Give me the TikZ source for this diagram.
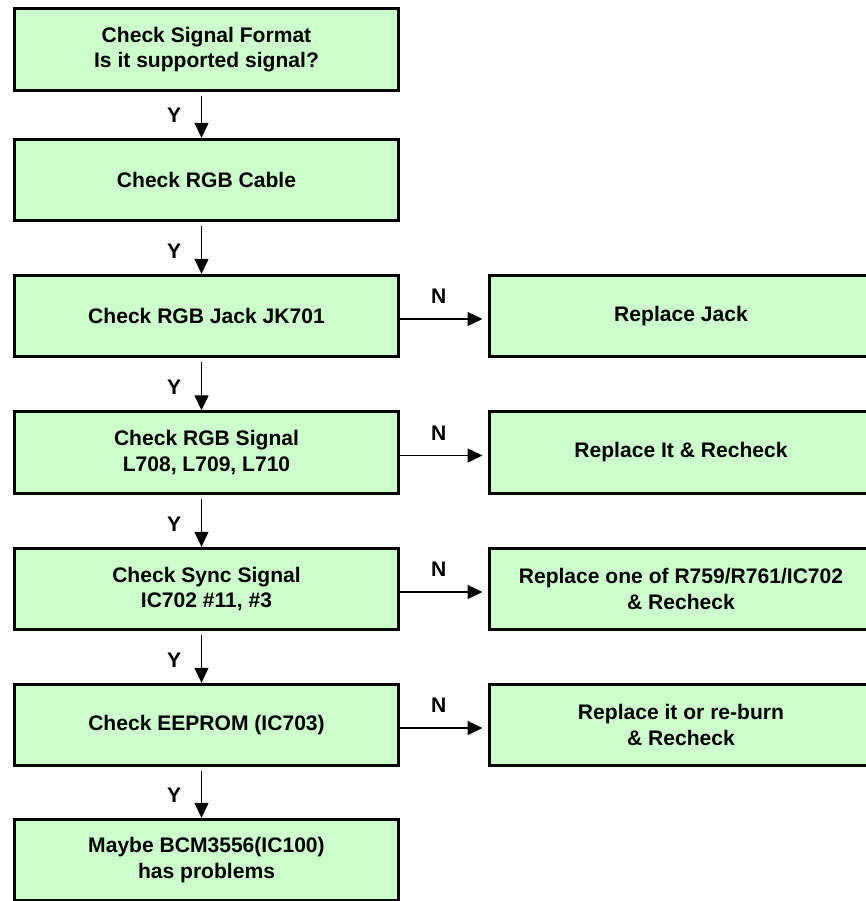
\documentclass[tikz,border=0pt]{standalone}
\usepackage{fontspec}
\setmainfont{Liberation Sans}
\usetikzlibrary{arrows.meta}

\definecolor{boxgreen}{HTML}{CCFFCC}

\begin{document}
\begin{tikzpicture}[x=0.75pt, y=-0.75pt,
  every node/.style={font=\bfseries\fontsize{15.8}{19}\selectfont},
  stepbox/.style={draw=black, line width=2.25pt, fill=boxgreen,
    minimum width=288pt, minimum height=61pt, align=center, inner sep=0pt},
  flow/.style={line width=1pt, -{Triangle[length=11.25pt, width=10.5pt]}},
  tag/.style={inner sep=0pt}]

  \useasboundingbox (0,0) rectangle (866,901);
  \clip (0,0) rectangle (866,901);

  % main column of checks
  \node[stepbox] (b1) at (206.5,49.5) {Check Signal Format\\Is it supported signal?};
  \node[stepbox] (b2) at (206.5,180)  {Check RGB Cable};
  \node[stepbox] (b3) at (206.5,316)  {Check RGB Jack JK701};
  \node[stepbox] (b4) at (206.5,452.5){Check RGB Signal\\L708, L709, L710};
  \node[stepbox] (b5) at (206.5,589)  {Check Sync Signal\\IC702 \#11, \#3};
  \node[stepbox] (b6) at (206.5,725)  {Check EEPROM (IC703)};
  \node[stepbox] (b7) at (206.5,860)  {Maybe BCM3556(IC100)\\has problems};

  % repair actions
  \node[stepbox] (r3) at (681,316)  {Replace Jack};
  \node[stepbox] (r4) at (681,452.5){Replace It \& Recheck};
  \node[stepbox] (r5) at (681,589)  {Replace one of R759/R761/IC702\\\& Recheck};
  \node[stepbox] (r6) at (681,725)  {Replace it or re-burn\\\& Recheck};

  % x position of the downward connectors
  \coordinate (ax) at (201.5,0);

  % "Y" connectors
  \foreach \a/\b in {b1/b2, b2/b3, b3/b4, b4/b5, b5/b6, b6/b7} {
    \draw[flow] ([yshift=-3pt]\a.south -| ax) -- (\b.north -| ax);
    \node[tag, anchor=center] at ([xshift=-20.5pt, yshift=17.25pt]\b.north -| ax) {Y};
  }

  % "N" connectors
  \foreach \a/\b in {b3/r3, b4/r4, b5/r5, b6/r6} {
    \draw[flow] ([yshift=-2.25pt]\a.east) -- ([xshift=-3.75pt, yshift=-2.25pt]\b.west);
    \node[tag] at ([xshift=29pt, yshift=14.5pt]\a.east) {N};
  }
\end{tikzpicture}
\end{document}
